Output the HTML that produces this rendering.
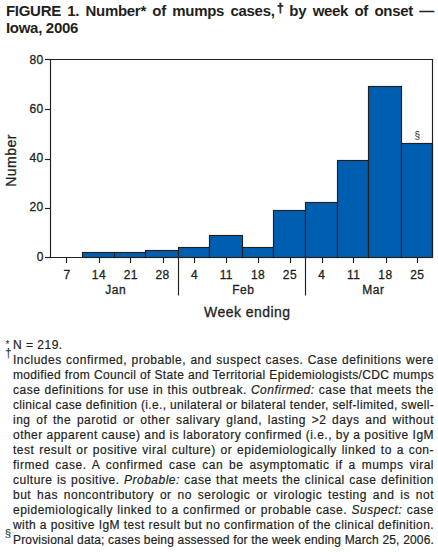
<!DOCTYPE html>
<html><head><meta charset="utf-8">
<style>
html,body{margin:0;padding:0;background:#fff;}
body{width:438px;height:552px;position:relative;overflow:hidden;font-family:"Liberation Sans",sans-serif;color:#231f20;}
.title{position:absolute;left:6px;font-weight:bold;font-size:15px;line-height:17px;white-space:nowrap;}
.t1{top:1.8px;width:428px;text-align:justify;text-align-last:justify;letter-spacing:-0.3px;}
.t2{top:18.8px;letter-spacing:-0.3px;}
.title sup{font-size:12px;vertical-align:0;position:relative;top:-4.3px;line-height:0;margin-left:0px;margin-right:-3px;-webkit-text-stroke:0.5px #231f20;}
svg{position:absolute;left:0;top:0;}
svg text{font-family:"Liberation Sans",sans-serif;fill:#231f20;stroke:#231f20;stroke-width:0.3px;}
.ln{position:absolute;left:13px;width:421px;font-size:12px;line-height:15px;white-space:nowrap;-webkit-text-stroke:0.2px #231f20;}
.ln.j{text-align:justify;text-align-last:justify;}
.m{position:absolute;font-size:11px;line-height:11px;letter-spacing:0;-webkit-text-stroke:0;}
</style></head><body>
<div class="title t1">FIGURE 1. Number* of mumps cases,<sup>†</sup> by week of onset —</div>
<div class="title t2">Iowa, 2006</div>
<svg width="438" height="552" viewBox="0 0 438 552">
<rect x="82.5" y="252.5" width="32" height="5" fill="#005eb0" stroke="#231f20" stroke-width="1.15"/>
<rect x="114.5" y="252.5" width="31" height="5" fill="#005eb0" stroke="#231f20" stroke-width="1.15"/>
<rect x="145.5" y="250.5" width="33" height="7" fill="#005eb0" stroke="#231f20" stroke-width="1.15"/>
<rect x="178.5" y="247.5" width="31" height="10" fill="#005eb0" stroke="#231f20" stroke-width="1.15"/>
<rect x="209.5" y="235.5" width="33" height="22" fill="#005eb0" stroke="#231f20" stroke-width="1.15"/>
<rect x="242.5" y="247.5" width="31" height="10" fill="#005eb0" stroke="#231f20" stroke-width="1.15"/>
<rect x="273.5" y="210.5" width="32" height="47" fill="#005eb0" stroke="#231f20" stroke-width="1.15"/>
<rect x="305.5" y="202.5" width="32" height="55" fill="#005eb0" stroke="#231f20" stroke-width="1.15"/>
<rect x="337.5" y="160.5" width="31" height="97" fill="#005eb0" stroke="#231f20" stroke-width="1.15"/>
<rect x="368.5" y="86.5" width="33" height="171" fill="#005eb0" stroke="#231f20" stroke-width="1.15"/>
<rect x="401.5" y="143.5" width="31" height="114" fill="#005eb0" stroke="#231f20" stroke-width="1.15"/>
<path d="M50.5 257.5 V59.5 H432.5 V257.5" fill="none" stroke="#231f20" stroke-width="1.15"/>
<path d="M45 257.5 H432.5" fill="none" stroke="#231f20" stroke-width="1.15"/>
<path d="M45 257.5 H50.5" stroke="#231f20" stroke-width="1.15"/>
<text x="43.75" y="261.2" text-anchor="end" font-size="12" letter-spacing="0.45">0</text>
<path d="M45 208.5 H50.5" stroke="#231f20" stroke-width="1.15"/>
<text x="43.75" y="211" text-anchor="end" font-size="12" letter-spacing="0.45">20</text>
<path d="M45 159.5 H50.5" stroke="#231f20" stroke-width="1.15"/>
<text x="43.75" y="162" text-anchor="end" font-size="12" letter-spacing="0.45">40</text>
<path d="M45 109.5 H50.5" stroke="#231f20" stroke-width="1.15"/>
<text x="43.75" y="113" text-anchor="end" font-size="12" letter-spacing="0.45">60</text>
<path d="M45 59.5 H50.5" stroke="#231f20" stroke-width="1.15"/>
<text x="43.75" y="63.8" text-anchor="end" font-size="12" letter-spacing="0.45">80</text>
<path d="M66.5 257.5 V263" stroke="#231f20" stroke-width="1.15"/>
<text x="67.14" y="279" text-anchor="middle" font-size="12" letter-spacing="0.45">7</text>
<path d="M99.5 257.5 V263" stroke="#231f20" stroke-width="1.15"/>
<text x="98.97" y="279" text-anchor="middle" font-size="12" letter-spacing="0.45">14</text>
<path d="M130.5 257.5 V263" stroke="#231f20" stroke-width="1.15"/>
<text x="130.81" y="279" text-anchor="middle" font-size="12" letter-spacing="0.45">21</text>
<path d="M163.5 257.5 V263" stroke="#231f20" stroke-width="1.15"/>
<text x="162.64" y="279" text-anchor="middle" font-size="12" letter-spacing="0.45">28</text>
<path d="M194.5 257.5 V263" stroke="#231f20" stroke-width="1.15"/>
<text x="194.47" y="279" text-anchor="middle" font-size="12" letter-spacing="0.45">4</text>
<path d="M226.5 257.5 V263" stroke="#231f20" stroke-width="1.15"/>
<text x="226.31" y="279" text-anchor="middle" font-size="12" letter-spacing="0.45">11</text>
<path d="M258.5 257.5 V263" stroke="#231f20" stroke-width="1.15"/>
<text x="258.14" y="279" text-anchor="middle" font-size="12" letter-spacing="0.45">18</text>
<path d="M290.5 257.5 V263" stroke="#231f20" stroke-width="1.15"/>
<text x="289.97" y="279" text-anchor="middle" font-size="12" letter-spacing="0.45">25</text>
<path d="M322.5 257.5 V263" stroke="#231f20" stroke-width="1.15"/>
<text x="321.81" y="279" text-anchor="middle" font-size="12" letter-spacing="0.45">4</text>
<path d="M353.5 257.5 V263" stroke="#231f20" stroke-width="1.15"/>
<text x="353.64" y="279" text-anchor="middle" font-size="12" letter-spacing="0.45">11</text>
<path d="M386.5 257.5 V263" stroke="#231f20" stroke-width="1.15"/>
<text x="385.47" y="279" text-anchor="middle" font-size="12" letter-spacing="0.45">18</text>
<path d="M417.5 257.5 V263" stroke="#231f20" stroke-width="1.15"/>
<text x="417.30" y="279" text-anchor="middle" font-size="12" letter-spacing="0.45">25</text>
<path d="M178.5 257.5 V295.5" stroke="#231f20" stroke-width="1.15"/>
<path d="M305.5 257.5 V295.5" stroke="#231f20" stroke-width="1.15"/>
<text x="115.72" y="294.2" text-anchor="middle" font-size="12" letter-spacing="0.45">Jan</text>
<text x="243.32" y="294.2" text-anchor="middle" font-size="12" letter-spacing="0.45">Feb</text>
<text x="373.33" y="294.2" text-anchor="middle" font-size="12" letter-spacing="0.45">Mar</text>
<text x="247.32" y="317" text-anchor="middle" font-size="14" letter-spacing="0.45">Week ending</text>
<text transform="translate(16,160.5) rotate(-90)" text-anchor="middle" font-size="14" letter-spacing="0.45">Number</text>
<text x="417.3" y="139" text-anchor="middle" font-size="10" style="stroke-width:0">§</text>
</svg>
<div class="ln" style="top:338px;letter-spacing:0.500px"><span class="m" style="left:-7.6px;top:1.3px;font-size:10px">*</span>N = 219.</div>
<div class="ln j" style="top:353px;letter-spacing:0.500px"><span class="m" style="left:-8px;top:-4.9px;font-size:12px">†</span>Includes confirmed, probable, and suspect cases. Case definitions were</div>
<div class="ln j" style="top:368px;letter-spacing:0.341px">modified from Council of State and Territorial Epidemiologists/CDC mumps</div>
<div class="ln j" style="top:383px;letter-spacing:0.500px">case definitions for use in this outbreak. <i>Confirmed:</i> case that meets the</div>
<div class="ln j" style="top:398px;letter-spacing:0.337px">clinical case definition (i.e., unilateral or bilateral tender, self-limited, swell-</div>
<div class="ln j" style="top:413px;letter-spacing:0.500px">ing of the parotid or other salivary gland, lasting &gt;2 days and without</div>
<div class="ln j" style="top:428px;letter-spacing:0.473px">other apparent cause) and is laboratory confirmed (i.e., by a positive IgM</div>
<div class="ln j" style="top:443px;letter-spacing:0.500px">test result or positive viral culture) or epidemiologically linked to a con-</div>
<div class="ln j" style="top:458px;letter-spacing:0.500px">firmed case. A confirmed case can be asymptomatic if a mumps viral</div>
<div class="ln j" style="top:473px;letter-spacing:0.500px">culture is positive. <i>Probable:</i> case that meets the clinical case definition</div>
<div class="ln j" style="top:488px;letter-spacing:0.500px">but has noncontributory or no serologic or virologic testing and is not</div>
<div class="ln j" style="top:503px;letter-spacing:0.500px">epidemiologically linked to a confirmed or probable case. <i>Suspect:</i> case</div>
<div class="ln j" style="top:518px;letter-spacing:0.426px">with a positive IgM test result but no confirmation of the clinical definition.</div>
<div class="ln j" style="top:533px;letter-spacing:0.166px"><span class="m" style="left:-8.3px;top:-5.3px;font-size:11.5px">§</span>Provisional data; cases being assessed for the week ending March 25, 2006.</div>
</body></html>
